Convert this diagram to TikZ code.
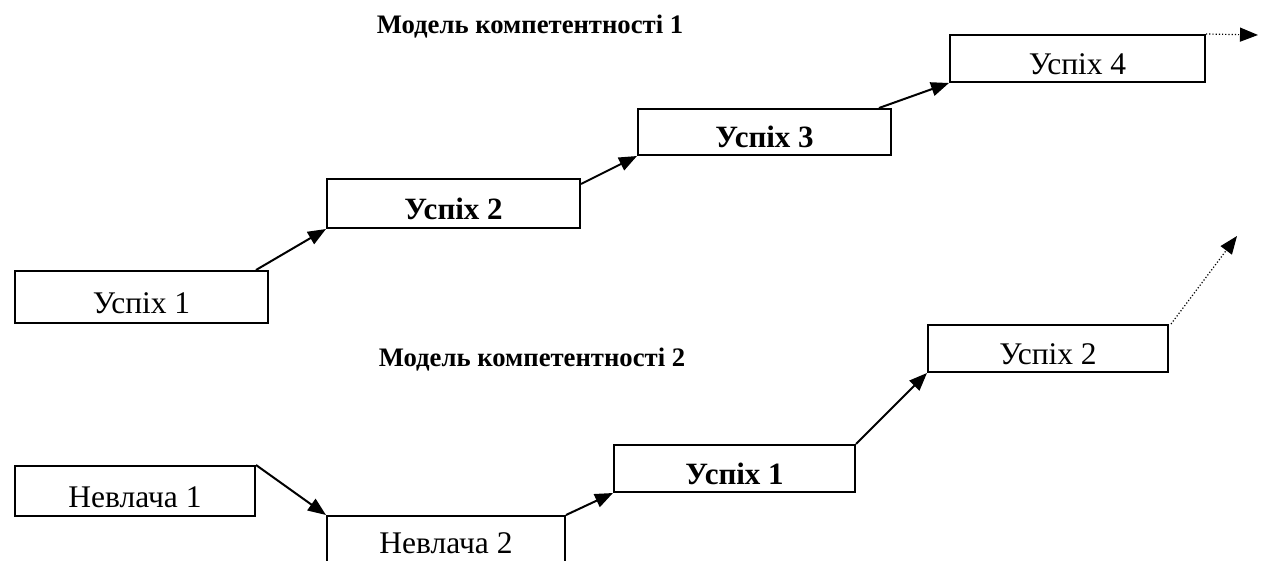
\documentclass[tikz,border=0pt]{standalone}
\usepackage{fontspec}
\setmainfont{Liberation Serif}
\usetikzlibrary{arrows.meta}
\begin{document}
\begin{tikzpicture}[x=1pt,y=-1pt,
  box/.style={draw,line width=2pt,inner sep=0pt,text height=32pt,text depth=0pt,font=\fontsize{31.5}{31.5}\selectfont},
  boldbox/.style={box,font=\fontsize{31}{31}\selectfont\bfseries},
  title/.style={font=\fontsize{26.7}{26.7}\selectfont\bfseries,inner sep=0pt},
  conn/.style={line width=2pt,-{Triangle[length=18pt,width=14pt]}},
  dotconn/.style={line width=1.2pt,dotted,-{Triangle[length=18pt,width=14pt]}}
]
\useasboundingbox (0,0) rectangle (1269,561);
\clip (0,0) rectangle (1269,561);

% Model 1
\node[title] (t1) at (530,27) {Модель компетентності 1};
\node[box,minimum width=253pt,minimum height=52pt] (a1) at (141.5,297) {Успіх 1};
\node[boldbox,minimum width=253pt,minimum height=49pt] (a2) at (453.5,203.5) {Успіх 2};
\node[boldbox,minimum width=253pt,minimum height=46pt] (a3) at (764.5,132) {Успіх 3};
\node[box,minimum width=255pt,minimum height=47pt] (a4) at (1077.5,58.5) {Успіх 4};
\coordinate (e1) at (1258,35);

\draw[conn] ([xshift=-13pt]a1.north east) -- (a2.south west);
\draw[conn] ([yshift=-6pt]a2.north east) -- (a3.south west);
\draw[conn] ([xshift=-13pt]a3.north east) -- (a4.south west);
\draw[dotconn] (a4.north east) -- (e1);

% Model 2
\node[title] (t2) at (532,360) {Модель компетентності 2};
\node[box,minimum width=240pt,minimum height=50pt] (b1) at (135,491) {Невлача 1};
\node[box,text height=14pt,minimum width=238pt,minimum height=60pt] (b2) at (446,546) {Невлача 2};
\node[boldbox,minimum width=241pt,minimum height=47pt] (b3) at (734.5,468.5) {Успіх 1};
\node[box,minimum width=240pt,minimum height=47pt] (b4) at (1048,348.5) {Успіх 2};
\coordinate (e2) at (1237,236);

\draw[conn] (b1.north east) -- (b2.north west);
\draw[conn] (b2.north east) -- (b3.south west);
\draw[conn] (b3.north east) -- (b4.south west);
\draw[dotconn] ([xshift=2pt]b4.north east) -- (e2);
\end{tikzpicture}
\end{document}
